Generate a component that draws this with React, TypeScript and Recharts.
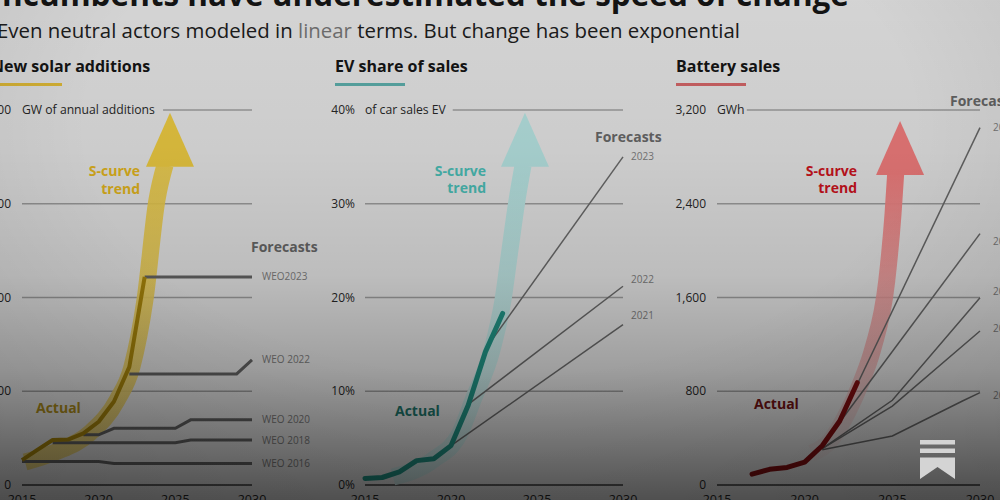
import React from 'react';
import { LineChart, Line, XAxis, YAxis, ReferenceLine } from 'recharts';

const FONT = '"Open Sans", "DejaVu Sans", sans-serif';

// ---------- shared ----------
const yearTicks = [2015, 2020, 2025, 2030];

// ---------- Panel 1: New solar additions (GW) ----------
const solarTicks = [0, 200, 400, 600, 800];
const solarActual = [
  { x: 2015, y: 53 }, { x: 2016, y: 75 }, { x: 2017, y: 96 }, { x: 2018, y: 97 },
  { x: 2019, y: 110 }, { x: 2020, y: 135 }, { x: 2021, y: 178 }, { x: 2022, y: 252 }, { x: 2023, y: 444 },
];
const solarWeo2023 = [{ x: 2023, y: 444 }, { x: 2030, y: 444 }];
const solarWeo2022 = [{ x: 2022, y: 237 }, { x: 2029, y: 237 }, { x: 2030, y: 267 }];
const solarWeo2020 = [{ x: 2019, y: 107 }, { x: 2020, y: 107 }, { x: 2021, y: 121 }, { x: 2025, y: 121 }, { x: 2026, y: 139 }, { x: 2030, y: 139 }];
const solarWeo2018 = [{ x: 2017, y: 90 }, { x: 2025, y: 90 }, { x: 2026, y: 96 }, { x: 2030, y: 96 }];
const solarWeo2016 = [{ x: 2015, y: 50 }, { x: 2020, y: 50 }, { x: 2021, y: 46 }, { x: 2030, y: 46 }];
const solarTrend = [
  { x: 2015.2, y: 49 }, { x: 2017.15, y: 70 }, { x: 2019.43, y: 111 }, { x: 2021.2, y: 181 },
  { x: 2022.17, y: 252 }, { x: 2023.02, y: 395 }, { x: 2023.8, y: 608 }, { x: 2024.33, y: 683 },
];
const solarTrendTip = [{ x: 2024.65, y: 794 }];

// ---------- Panel 2: EV share of sales (%) ----------
const evTicks = [0, 10, 20, 30, 40];
const evActual = [
  { x: 2015, y: 0.7 }, { x: 2016, y: 0.8 }, { x: 2017, y: 1.4 }, { x: 2018, y: 2.6 },
  { x: 2019, y: 2.8 }, { x: 2020, y: 4.2 }, { x: 2021, y: 8.5 }, { x: 2022, y: 14.2 }, { x: 2023, y: 18.3 },
];
const evF2023 = [{ x: 2022, y: 14.5 }, { x: 2030, y: 35 }];
const evF2022 = [{ x: 2021, y: 8.6 }, { x: 2030, y: 21.2 }];
const evF2021 = [{ x: 2020, y: 4.2 }, { x: 2030, y: 17.1 }];
const evTrend = [
  { x: 2016.63, y: 0.85 }, { x: 2018.95, y: 2.67 }, { x: 2020.52, y: 5.55 }, { x: 2021.28, y: 9.07 },
  { x: 2022.38, y: 14.4 }, { x: 2023.02, y: 19.7 }, { x: 2023.43, y: 25.1 }, { x: 2023.84, y: 30.4 }, { x: 2024.19, y: 34.1 },
];
const evTrendTip = [{ x: 2024.3, y: 39.7 }];

// ---------- Panel 3: Battery sales (GWh) ----------
const batTicks = [0, 800, 1600, 2400, 3200];
const batActual = [
  { x: 2017, y: 93 }, { x: 2018, y: 134 }, { x: 2019, y: 150 }, { x: 2020, y: 195 },
  { x: 2021, y: 335 }, { x: 2022, y: 546 }, { x: 2023, y: 873 },
];
const batF1 = [{ x: 2022, y: 546 }, { x: 2030, y: 3050 }];
const batF2 = [{ x: 2021, y: 335 }, { x: 2030, y: 2145 }];
const batF3 = [{ x: 2021, y: 310 }, { x: 2025, y: 723 }, { x: 2030, y: 1598 }];
const batF4 = [{ x: 2021, y: 310 }, { x: 2025, y: 674 }, { x: 2030, y: 1314 }];
const batF5 = [{ x: 2021, y: 300 }, { x: 2025, y: 418 }, { x: 2029, y: 717 }, { x: 2030, y: 788 }];
const batTrend = [
  { x: 2020.4, y: 273 }, { x: 2021.44, y: 375 }, { x: 2022.4, y: 606 }, { x: 2023.25, y: 887 },
  { x: 2023.9, y: 1169 }, { x: 2024.68, y: 1741 }, { x: 2025.04, y: 2313 }, { x: 2025.2, y: 2679 },
];
const batTrendTip = [{ x: 2025.44, y: 3106 }];

// ---------- helpers ----------
const ArrowHead = (fill: string) => (props: any) => {
  const { cx, cy, index } = props;
  if (cx == null || cy == null) return <g key={`h${index}`} />;
  const pts = `${cx},${cy} ${cx + 24},${cy + 54} ${cx - 24},${cy + 54}`;
  return <polygon key={`h${index}`} points={pts} fill={fill} />;
};

const endLabel = (text: string, n: number, dx: number, dy: number, size = 10) => (props: any) => {
  const { x, y, index } = props;
  if (index !== n - 1) return <g key={`l${index}`} />;
  return (
    <text key={`l${index}`} x={x + dx} y={y + dy} dy="0.35em" fontSize={size} fill="#858585" fontFamily={FONT}>
      {text}
    </text>
  );
};

const makeYTick = (top: number, unit: string, fmt: (v: number) => string, gap: number) => (props: any) => {
  const { x, y, payload } = props;
  const v = payload.value;
  return (
    <g>
      <text x={x} y={y} dy="0.35em" textAnchor="end" fontSize={12} fill="#2a2a2a" fontFamily={FONT}>{fmt(v)}</text>
      {v === top ? (
        <text x={x + gap} y={y} dy="0.35em" textAnchor="start" fontSize={12.2} fill="#2a2a2a" fontFamily={FONT}>{unit}</text>
      ) : null}
    </g>
  );
};

const XTick = (props: any) => {
  const { x, y, payload } = props;
  return (
    <text x={x} y={y} dy={19} textAnchor="middle" fontSize={12.5} fill="#2a2a2a" fontFamily={FONT}>{payload.value}</text>
  );
};

type PanelProps = {
  boxLeft: number; plotLeft: number; plotRight: number; rightMargin: number;
  ticks: number[]; fmt: (v: number) => string; unit: string; topStart: number; gap: number;
  children: React.ReactNode;
};

function Panel({ boxLeft, plotLeft, plotRight, rightMargin, ticks, fmt, unit, topStart, gap, children }: PanelProps) {
  const width = plotRight - boxLeft + rightMargin;
  const top = ticks[ticks.length - 1];
  return (
    <div style={{ position: 'absolute', left: boxLeft, top: 90, width, height: 410 }}>
      <LineChart width={width} height={410} margin={{ top: 20, right: rightMargin, bottom: 0, left: 0 }}>
        <XAxis type="number" dataKey="x" domain={[2015, 2030]} ticks={yearTicks} axisLine={false} tickLine={false}
          tickSize={0} tickMargin={0} height={15} tick={XTick} interval={0} />
        <YAxis type="number" dataKey="y" domain={[0, top]} ticks={ticks} axisLine={false} tickLine={false}
          tickSize={0} tickMargin={gap} width={plotLeft - boxLeft} tick={makeYTick(top, unit, fmt, gap)} interval={0} />
        {ticks.slice(1, -1).map((t) => (
          <ReferenceLine key={t} y={t} stroke="#a8a8a8" strokeWidth={1.3} />
        ))}
        <ReferenceLine y={0} stroke="#6c6c6c" strokeWidth={2} />
        <ReferenceLine segment={[{ x: topStart, y: top }, { x: 2030, y: top }]} stroke="#a8a8a8" strokeWidth={1.3} />
        {children}
      </LineChart>
    </div>
  );
}

const common = { dataKey: 'y', isAnimationActive: false, dot: false, activeDot: false } as any;

export default function App() {
  return (
    <div style={{ position: 'fixed', left: 0, top: 0, width: 1000, height: 500, overflow: 'hidden', background: '#f3f3f3', fontFamily: FONT }}>
      {/* static texts */}
      <svg width={1000} height={500} style={{ position: 'absolute', left: 0, top: 0 }}>
        <text x={849} y={6} textAnchor="end" fontSize={31.5} fontWeight={700} fill="#161616" fontFamily={FONT}>
          Incumbents have underestimated the speed of change
        </text>
        <text x={-3} y={38} fontSize={20.4} fill="#202020" fontFamily={FONT}>
          Even neutral actors modeled in <tspan fill="#7c7c7c">linear</tspan> terms. But change has been exponential
        </text>
        <text x={-9} y={72} fontSize={16} fontWeight={700} fill="#161616" fontFamily={FONT}>New solar additions</text>
        <text x={335} y={72} fontSize={16} fontWeight={700} fill="#161616" fontFamily={FONT}>EV share of sales</text>
        <text x={676} y={72} fontSize={16} fontWeight={700} fill="#161616" fontFamily={FONT}>Battery sales</text>
        <rect x={-8} y={83} width={70} height={3} fill="#f0c83c" />
        <rect x={335} y={83} width={70} height={3} fill="#62b8b5" />
        <rect x={676} y={83} width={70} height={3} fill="#e06c6e" />

        <text x={140} y={175.5} textAnchor="end" fontSize={14} fontWeight={700} fill="#f0c020" fontFamily={FONT}>S-curve</text>
        <text x={140} y={194} textAnchor="end" fontSize={14} fontWeight={700} fill="#f0c020" fontFamily={FONT}>trend</text>
        <text x={36} y={412.5} fontSize={14} fontWeight={700} fill="#b8961c" fontFamily={FONT}>Actual</text>
        <text x={251} y={252} fontSize={14} fontWeight={700} fill="#6e6e6e" fontFamily={FONT}>Forecasts</text>

        <text x={486} y={175.5} textAnchor="end" fontSize={14} fontWeight={700} fill="#50cac2" fontFamily={FONT}>S-curve</text>
        <text x={486} y={193} textAnchor="end" fontSize={14} fontWeight={700} fill="#50cac2" fontFamily={FONT}>trend</text>
        <text x={395} y={415.5} fontSize={14} fontWeight={700} fill="#1f7d72" fontFamily={FONT}>Actual</text>
        <text x={595} y={141.5} fontSize={14} fontWeight={700} fill="#6e6e6e" fontFamily={FONT}>Forecasts</text>

        <text x={857} y={175.5} textAnchor="end" fontSize={14} fontWeight={700} fill="#d8141f" fontFamily={FONT}>S-curve</text>
        <text x={857} y={193} textAnchor="end" fontSize={14} fontWeight={700} fill="#d8141f" fontFamily={FONT}>trend</text>
        <text x={754} y={409} fontSize={14} fontWeight={700} fill="#7a1214" fontFamily={FONT}>Actual</text>
        <text x={950} y={105.5} fontSize={14} fontWeight={700} fill="#6e6e6e" fontFamily={FONT}>Forecasts</text>
      </svg>

      {/* Panel 1 */}
      <Panel boxLeft={-30} plotLeft={22} plotRight={252} rightMargin={80} ticks={solarTicks}
        fmt={(v) => String(v)} unit="GW of annual additions" topStart={2024.2} gap={11}>
        <defs>
          <linearGradient id="gSolar" x1="0" y1="1" x2="0" y2="0">
            <stop offset="0%" stopColor="#f6dc78" />
            <stop offset="100%" stopColor="#fbd746" />
          </linearGradient>
        </defs>
        <Line {...common} data={solarTrend} type="monotone" stroke="url(#gSolar)" strokeWidth={17} strokeOpacity={0.9} />
        <Line {...common} data={solarTrendTip} stroke="none" dot={ArrowHead('#fbd746')} />
        <Line {...common} data={solarWeo2022} stroke="#6a6a6a" strokeWidth={3} label={endLabel('WEO 2022', solarWeo2022.length, 10, 0)} />
        <Line {...common} data={solarWeo2020} stroke="#6a6a6a" strokeWidth={3} label={endLabel('WEO 2020', solarWeo2020.length, 10, 0)} />
        <Line {...common} data={solarWeo2018} stroke="#6a6a6a" strokeWidth={3} label={endLabel('WEO 2018', solarWeo2018.length, 10, 0)} />
        <Line {...common} data={solarWeo2016} stroke="#6a6a6a" strokeWidth={3} label={endLabel('WEO 2016', solarWeo2016.length, 10, 0)} />
        <Line {...common} data={solarWeo2023} stroke="#6a6a6a" strokeWidth={3} label={endLabel('WEO2023', solarWeo2023.length, 10, 0)} />
        <Line {...common} data={solarActual} stroke="#b48f0b" strokeWidth={4} strokeLinejoin="round" />
      </Panel>

      {/* Panel 2 */}
      <Panel boxLeft={325} plotLeft={365} plotRight={623} rightMargin={45} ticks={evTicks}
        fmt={(v) => `${v}%`} unit="of car sales EV" topStart={2020.1} gap={10}>
        <defs>
          <linearGradient id="gEv" x1="0" y1="1" x2="0" y2="0">
            <stop offset="0%" stopColor="#daf4f3" />
            <stop offset="100%" stopColor="#c2f2f0" />
          </linearGradient>
        </defs>
        <Line {...common} data={evTrend} type="monotone" stroke="url(#gEv)" strokeWidth={17} />
        <Line {...common} data={evTrendTip} stroke="none" dot={ArrowHead('#c2f2f0')} />
        <Line {...common} data={evF2023} stroke="#707070" strokeWidth={1.5} label={endLabel('2023', evF2023.length, 8, 0)} />
        <Line {...common} data={evF2022} stroke="#707070" strokeWidth={1.5} label={endLabel('2022', evF2022.length, 8, -7)} />
        <Line {...common} data={evF2021} stroke="#707070" strokeWidth={1.5} label={endLabel('2021', evF2021.length, 8, -9)} />
        <Line {...common} data={evActual} stroke="#239d8e" strokeWidth={5} strokeLinejoin="round" strokeLinecap="round" />
      </Panel>

      {/* Panel 3 */}
      <Panel boxLeft={675} plotLeft={717} plotRight={980} rightMargin={30} ticks={batTicks}
        fmt={(v) => v.toLocaleString('en-US')} unit="GWh" topStart={2016.7} gap={11}>
        <defs>
          <linearGradient id="gBat" x1="0" y1="1" x2="0" y2="0">
            <stop offset="0%" stopColor="#f7c0c0" stopOpacity={0.15} />
            <stop offset="35%" stopColor="#f8aaaa" stopOpacity={0.75} />
            <stop offset="100%" stopColor="#ff8484" stopOpacity={1} />
          </linearGradient>
        </defs>
        <Line {...common} data={batTrend} type="monotone" stroke="url(#gBat)" strokeWidth={17} />
        <Line {...common} data={batTrendTip} stroke="none" dot={ArrowHead('#ff8484')} />
        <Line {...common} data={batF1} stroke="#707070" strokeWidth={1.5} label={endLabel('2023', batF1.length, 13, 0)} />
        <Line {...common} data={batF2} stroke="#707070" strokeWidth={1.5} label={endLabel('2022', batF2.length, 13, 8)} />
        <Line {...common} data={batF3} stroke="#707070" strokeWidth={1.5} label={endLabel('2021', batF3.length, 13, -6)} />
        <Line {...common} data={batF4} stroke="#707070" strokeWidth={1.5} label={endLabel('2020', batF4.length, 13, -3)} />
        <Line {...common} data={batF5} stroke="#707070" strokeWidth={1.5} label={endLabel('2019', batF5.length, 13, 3)} />
        <Line {...common} data={batActual} stroke="#8e0f12" strokeWidth={5} strokeLinejoin="round" strokeLinecap="round" />
      </Panel>

      {/* photographic darkening */}
      <div style={{
        position: 'absolute', left: 0, top: 0, width: 1000, height: 500, pointerEvents: 'none',
        background: 'radial-gradient(ellipse 75% 90% at 50% 25%, rgba(0,0,0,0) 55%, rgba(0,0,0,0.12) 100%), linear-gradient(to bottom, rgba(0,0,0,0.13) 0%, rgba(0,0,0,0.16) 30%, rgba(0,0,0,0.224) 55%, rgba(0,0,0,0.35) 74%, rgba(0,0,0,0.496) 87%, rgba(0,0,0,0.643) 100%)',
      }} />
      <svg width={1000} height={500} style={{ position: 'absolute', left: 0, top: 0 }}>
        <rect x={920} y={440} width={35} height={4.5} fill="#d4d4d4" />
        <rect x={920} y={448.5} width={35} height={4.5} fill="#d4d4d4" />
        <polygon points="920,457.5 955,457.5 955,479 937.5,467 920,479" fill="#d4d4d4" />
      </svg>
    </div>
  );
}
